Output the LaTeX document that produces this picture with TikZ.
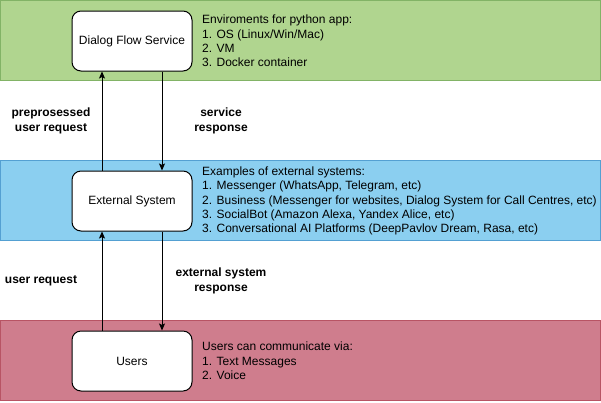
\documentclass[tikz,border=0pt]{standalone}
\usepackage{fontspec}
\setmainfont{Liberation Sans}
\usepackage{xcolor}
\usepackage{tikz}
\usetikzlibrary{arrows.meta}
\usetikzlibrary{positioning}

\definecolor{greenfill}{RGB}{176,213,143}
\definecolor{greenline}{RGB}{130,179,102}
\definecolor{bluefill}{RGB}{139,207,240}
\definecolor{blueline}{RGB}{84,160,210}
\definecolor{redfill}{RGB}{207,125,141}
\definecolor{redline}{RGB}{184,84,100}

\begin{document}
\begin{tikzpicture}[
  x=1pt, y=-1pt,
  every node/.style={font=\fontsize{12}{14.4}\selectfont},
  band/.style={line width=1pt},
  box/.style={draw, fill=white, rounded corners=9pt, line width=1pt,
              minimum width=120pt, minimum height=60pt, inner sep=0pt},
  info/.style={anchor=west, align=left, inner sep=0pt},
  lbl/.style={align=center, inner sep=0pt, font=\fontsize{12}{14.4}\selectfont\bfseries},
  flow/.style={->, line width=0.8pt},
]
\tikzset{>={Stealth[length=7pt, width=6pt, inset=1.5pt]}}
\useasboundingbox (0,0) rectangle (601,402);

% layers
\draw[band, fill=greenfill, draw=greenline] (0.5,0.5) rectangle (600.5,80.5);
\draw[band, fill=bluefill, draw=blueline] (0.5,160.5) rectangle (600.5,240.5);
\draw[band, fill=redfill, draw=redline] (0.5,320.5) rectangle (600.5,400.5);

\node[box] (dfs) at (132,41)  {Dialog Flow Service};
\node[box] (ext) at (132,201) {External System};
\node[box] (usr) at (132,361) {Users};

\node[info] (dfsinfo) at (202,41) {Enviroments for python app:\\
  1. OS (Linux/Win/Mac)\\
  2. VM\\
  3. Docker container};
\node[info] (extinfo) at (202,201) {Examples of external systems:\\
  1. Messenger (WhatsApp, Telegram, etc)\\
  2. Business (Messenger for websites, Dialog System for Call Centres, etc)\\
  3. SocialBot (Amazon Alexa, Yandex Alice, etc)\\
  3. Conversational AI Platforms (DeepPavlov Dream, Rasa, etc)};
\node[info] (usrinfo) at (202,361) {Users can communicate via:\\
  1. Text Messages\\
  2. Voice};

% connectors
\draw[flow] ([xshift=-30pt]ext.north) -- ([xshift=-30pt]dfs.south);
\draw[flow] ([xshift=30pt]dfs.south) -- ([xshift=30pt]ext.north);
\draw[flow] ([xshift=-30pt]usr.north) -- ([xshift=-30pt]ext.south);
\draw[flow] ([xshift=30pt]ext.south) -- ([xshift=30pt]usr.north);

\node[lbl] (lpre) at (51,121)  {preprosessed\\user request};
\node[lbl] (lsrv) at (221,121) {service\\response};
\node[lbl] (lreq) at (41,281)  {user request};
\node[lbl] (lext) at (221,281) {external system\\response};
\end{tikzpicture}
\end{document}
